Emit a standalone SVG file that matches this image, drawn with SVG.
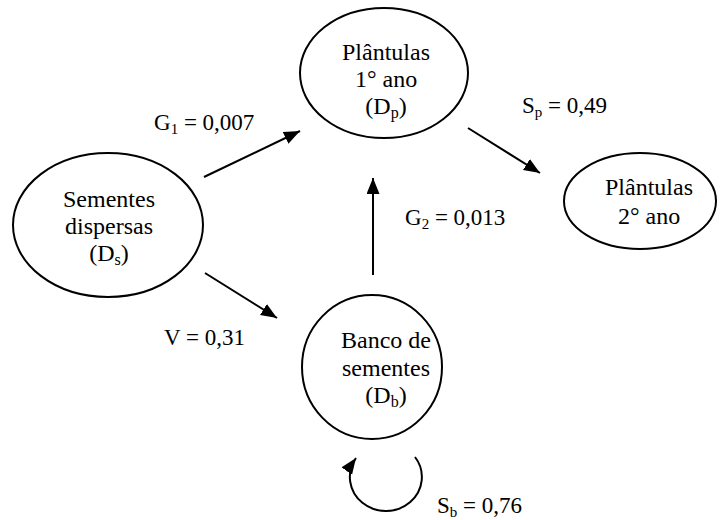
<svg xmlns="http://www.w3.org/2000/svg" width="724" height="520" viewBox="0 0 724 520">
<style>
  .node ellipse { fill: #fff; stroke: #000; stroke-width: 2; }
  text { font-family: "Liberation Serif", "Times New Roman", serif; font-size: 23px; fill: #000; }
  .node text { font-size: 24px; }
  .c { text-anchor: middle; }
  .sub { font-size: 15px; }
  .node .sub { font-size: 16px; }
  .edge { stroke: #000; stroke-width: 2; fill: none; marker-end: url(#ah); }
</style>
<defs>
  <marker id="ah" markerUnits="userSpaceOnUse" markerWidth="18" markerHeight="14" refX="16" refY="6.5" orient="auto">
    <path d="M0,0 L16,6.5 L0,13 z" fill="#000"/>
  </marker>
</defs>
<rect width="724" height="520" fill="#fff"/>

<g id="connectors">
  <line class="edge" x1="204" y1="177" x2="300" y2="131"/>
  <line class="edge" x1="468" y1="128" x2="540" y2="173"/>
  <line class="edge" x1="373" y1="275" x2="373" y2="178"/>
  <line class="edge" x1="205" y1="273" x2="277" y2="318"/>
  <path class="edge" d="M 415 457 A 36 34 0 1 1 356 458"/>
</g>

<g id="n-plantulas1" class="node">
  <ellipse cx="384" cy="73" rx="84" ry="65"/>
  <text class="c" x="386" y="60">Plântulas</text>
  <text class="c" x="386" y="87">1° ano</text>
  <text class="c" x="386" y="114">(D<tspan class="sub" dy="4">p</tspan><tspan dy="-4">)</tspan></text>
</g>

<g id="n-sementes" class="node">
  <ellipse cx="108" cy="225" rx="95" ry="72"/>
  <text class="c" x="109" y="207">Sementes</text>
  <text class="c" x="109" y="234">dispersas</text>
  <text class="c" x="109" y="261">(D<tspan class="sub" dy="4">s</tspan><tspan dy="-4">)</tspan></text>
</g>

<g id="n-banco" class="node">
  <ellipse cx="372" cy="367" rx="70" ry="72"/>
  <text class="c" x="386" y="348">Banco de</text>
  <text class="c" x="386" y="376">sementes</text>
  <text class="c" x="386" y="403">(D<tspan class="sub" dy="4">b</tspan><tspan dy="-4">)</tspan></text>
</g>

<g id="n-plantulas2" class="node">
  <ellipse cx="640" cy="201" rx="76" ry="48"/>
  <text class="c" x="649" y="195">Plântulas</text>
  <text class="c" x="649" y="224">2° ano</text>
</g>

<g id="labels">
  <text x="154" y="130">G<tspan class="sub" dy="4">1</tspan><tspan dy="-4"> = 0,007</tspan></text>
  <text x="522" y="113">S<tspan class="sub" dy="4">p</tspan><tspan dy="-4"> = 0,49</tspan></text>
  <text x="405" y="225">G<tspan class="sub" dy="4">2</tspan><tspan dy="-4"> = 0,013</tspan></text>
  <text x="164" y="345">V = 0,31</text>
  <text x="437" y="513">S<tspan class="sub" dy="4">b</tspan><tspan dy="-4"> = 0,76</tspan></text>
</g>
</svg>
